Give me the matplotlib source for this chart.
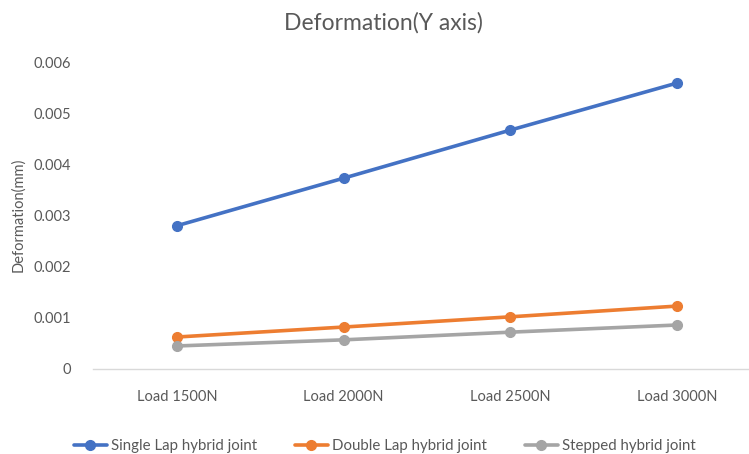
import matplotlib
matplotlib.use('Agg')
import matplotlib.pyplot as plt

# Data
loads = ['Load 1500N', 'Load 2000N', 'Load 2500N', 'Load 3000N']
single_lap = [0.00280, 0.00373, 0.00467, 0.00559]
double_lap = [0.000625, 0.00082, 0.00102, 0.00123]
stepped = [0.00045, 0.00057, 0.00072, 0.00086]
series_names = ['Single Lap hybrid joint', 'Double Lap hybrid joint', 'Stepped hybrid joint']
colors = ['#4472C4', '#ED7D31', '#A5A5A5']
yticks = [0, 0.001, 0.002, 0.003, 0.004, 0.005, 0.006]

plt.rcParams['font.family'] = ['Lato', 'DejaVu Sans']
txt = '#595959'

W, H = 749, 454
fig = plt.figure(figsize=(W / 100, H / 100), dpi=100)
ax = fig.add_axes([93 / W, (H - 369) / H, (749 - 93) / W, (369 - 62) / H])

x = range(len(loads))
for vals, name, c in zip([single_lap, double_lap, stepped], series_names, colors):
    ax.plot(x, vals, color=c, lw=2.6, marker='o', ms=7, label=name, solid_capstyle='round')

ax.set_xlim(-0.503, 3.43)
ax.set_ylim(0, 0.006)
ax.set_yticks(yticks)
ax.set_yticklabels(['0' if v == 0 else f'{v:.3f}' for v in yticks])
ax.set_xticks(list(x))
ax.set_xticklabels(loads)
ax.tick_params(axis='both', length=0, colors=txt, labelsize=10.5)
ax.tick_params(axis='y', pad=16)
ax.tick_params(axis='x', pad=15)
for s in ['top', 'right', 'left']:
    ax.spines[s].set_visible(False)
ax.spines['bottom'].set_color('#D9D9D9')
ax.spines['bottom'].set_linewidth(1)

fig.text(383 / W, 1 - 23 / H, 'Deformation(Y axis)', ha='center', va='center', fontsize=16.5, color=txt)
fig.text(18 / W, 1 - 215 / H, 'Deformation(mm)', rotation=90, ha='center', va='center', fontsize=10.5, color=txt)

handles, labels = ax.get_legend_handles_labels()
fig.legend(handles, labels, ncol=3, loc='center', bbox_to_anchor=(385 / W, 1 - 446 / H),
           frameon=False, fontsize=10.8, labelcolor=txt, handlelength=2.2,
           handletextpad=0.3, columnspacing=2.5, borderaxespad=0)

fig.savefig('out.png', dpi=100)
